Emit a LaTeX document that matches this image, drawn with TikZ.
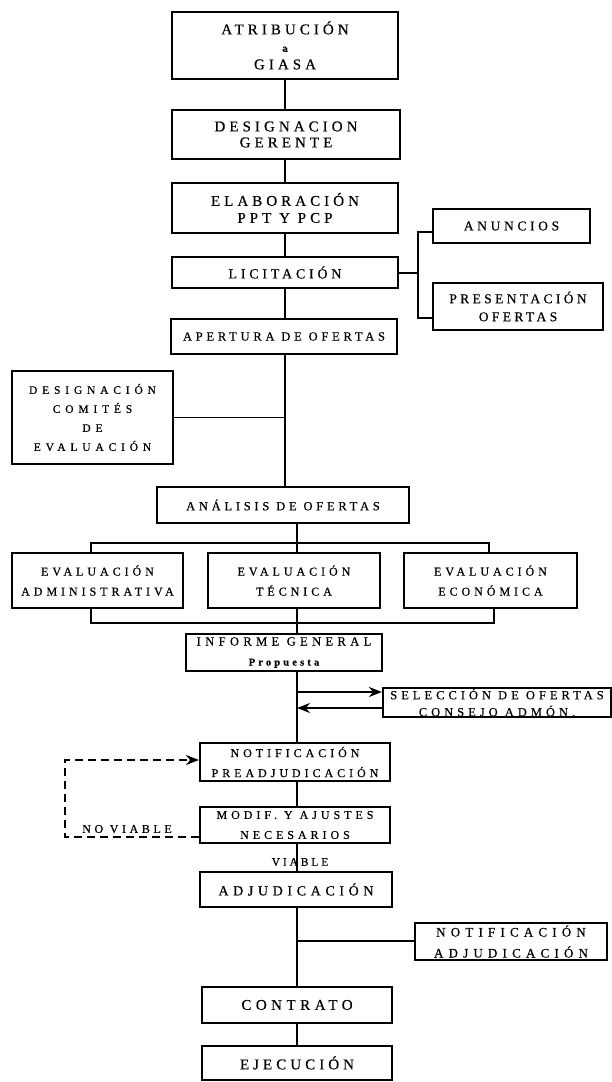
\documentclass[tikz,border=0pt]{standalone}
\usepackage{fontspec}
\setmainfont{Liberation Serif}
\usetikzlibrary{arrows.meta}
\newcommand{\fz}[3]{\fontsize{#1}{#2}\selectfont\addfontfeature{LetterSpace=#3,FakeBold=0.5}}
\newcommand{\bx}[7]{\node[box, font={#6}, minimum width={#4-#2}, minimum height={#5-#3}] (#1) at ({(#2+#4)/2},{(#3+#5)/2}) {#7};}
\tikzset{
  box/.style={draw, line width=2.2pt, inner sep=0pt, align=center},
  ln/.style={line width=2pt},
  thin ln/.style={line width=1.3pt},
  arr/.style={line width=2pt, -{Stealth[length=13pt,width=10pt]}},
  dsh/.style={line width=2pt, dash pattern=on 8pt off 5pt, -{Stealth[length=13pt,width=10pt]}},
  lbl/.style={inner sep=0pt}
}
\begin{document}
\begin{tikzpicture}[x=1pt,y=-1pt]
\useasboundingbox (0,0) rectangle (611,1082);
\coordinate (U) at (285,0);
\coordinate (L) at (297,0);
% boxes
\bx{atr}{172}{12}{398}{79}{\fz{15}{17.5}{27}}{ATRIBUCIÓN\\{\fontsize{11}{12}\selectfont\bfseries a}\\GIASA}
\bx{ger}{172}{110}{400}{159}{\fz{15}{16}{27}}{DESIGNACION\\GERENTE}
\bx{ela}{172}{183}{398}{233}{\fz{15}{17}{27}}{ELABORACIÓN\\PPT Y PCP}
\bx{lic}{172}{257}{398}{288}{\fz{14}{16}{27}}{LICITACIÓN}
\bx{anu}{433}{209}{590}{243}{\fz{13.5}{16}{27}}{ANUNCIOS}
\bx{pre}{433}{283}{603}{330}{\fz{13.5}{18}{25}}{PRESENTACIÓN\\OFERTAS}
\bx{ape}{171}{319}{397}{354}{\fz{12.5}{14}{30}}{APERTURA DE OFERTAS}
\bx{com}{12}{371}{173}{464}{\fz{11.5}{19}{42}}{DESIGNACIÓN\\COMITÉS\\DE\\EVALUACIÓN}
\bx{ana}{157}{487}{409}{523}{\fz{12.5}{14}{30}}{ANÁLISIS DE OFERTAS}
\bx{adm}{12}{553}{183}{608}{\fz{12}{20}{33}}{EVALUACIÓN\\ADMINISTRATIVA}
\bx{tec}{208}{553}{380}{608}{\fz{12}{20}{33}}{EVALUACIÓN\\TÉCNICA}
\bx{eco}{404}{553}{577}{608}{\fz{12}{20}{33}}{EVALUACIÓN\\ECONÓMICA}
\bx{inf}{186}{634}{382}{671}{\fz{12.5}{20}{35}}{INFORME GENERAL\\{\fz{10.5}{12}{30}\bfseries Propuesta}}
\bx{sel}{383}{688}{611}{717}{\fz{12.5}{17}{32}}{SELECCIÓN DE OFERTAS\\CONSEJO ADMÓN.}
\bx{nop}{200}{743}{390}{781}{\fz{12}{20}{33}}{NOTIFICACIÓN\\PREADJUDICACIÓN}
\bx{mod}{200}{807}{390}{843}{\fz{12}{20}{33}}{MODIF. Y AJUSTES\\NECESARIOS}
\bx{adj}{200}{872}{392}{907}{\fz{14}{16}{33}}{ADJUDICACIÓN}
\bx{noa}{415}{923}{607}{960}{\fz{13}{21}{40}}{NOTIFICACIÓN\\ADJUDICACIÓN}
\bx{con}{202}{987}{392}{1023}{\fz{15}{17}{30}}{CONTRATO}
\bx{eje}{202}{1046}{392}{1080}{\fz{15}{17}{27}}{EJECUCIÓN}
% main line, upper part
\draw[ln] (atr.south -| U) -- (ger.north -| U);
\draw[ln] (ger.south -| U) -- (ela.north -| U);
\draw[ln] (ela.south -| U) -- (lic.north -| U);
\draw[ln] (lic.south -| U) -- (ape.north -| U);
\draw[ln] (ape.south -| U) -- (ana.north -| U);
% bracket to anuncios / presentacion
\coordinate (bt) at (418,232);
\coordinate (bb) at (418,318);
\draw[ln] (lic.east) -- (lic.east -| bt);
\draw[ln] (bt -| anu.west) -- (bt) -- (bb) -- (bb -| pre.west);
% comites
\draw[thin ln] (com.east) -- (com.east -| U);
% evaluation brackets
\draw[ln] (ana.south -| L) -- (tec.north -| L);
\coordinate (tl) at (91,543);
\coordinate (tr) at (489,543);
\draw[ln] (tl |- adm.north) -- (tl) -- (tr) -- (tr |- eco.north);
\coordinate (bl) at (91,623);
\coordinate (brr) at (494,623);
\draw[ln] (bl |- adm.south) -- (bl) -- (brr) -- (brr |- eco.south);
% lower main line
\draw[ln] (tec.south -| L) -- (inf.north -| L);
\draw[ln] (inf.south -| L) -- (nop.north -| L);
\coordinate (a1) at (297,692);
\coordinate (a2) at (297,708);
\draw[arr] (a1) -- (a1 -| sel.west);
\draw[arr] (a2 -| sel.west) -- (a2);
\draw[ln] (nop.south -| L) -- (mod.north -| L);
\draw[ln] (mod.south -| L) -- (adj.north -| L);
\node[lbl, font={\fz{11.5}{13}{25}}] (via) at (300,862) {VIABLE};
% no viable loop
\coordinate (d1) at (65,837);
\coordinate (d2) at (65,760);
\draw[dsh] (mod.west |- d1) -- (d1) -- (d2) -- (d2 -| nop.west);
\node[lbl, font={\fz{12}{13}{30}}] (nv) at (127,829) {NO VIABLE};
% adjudicacion
\draw[ln] (adj.south -| L) -- (con.north -| L);
\coordinate (n1) at (297,941);
\draw[thin ln] (n1) -- (n1 -| noa.west);
\draw[ln] (con.south -| L) -- (eje.north -| L);
\end{tikzpicture}
\end{document}
